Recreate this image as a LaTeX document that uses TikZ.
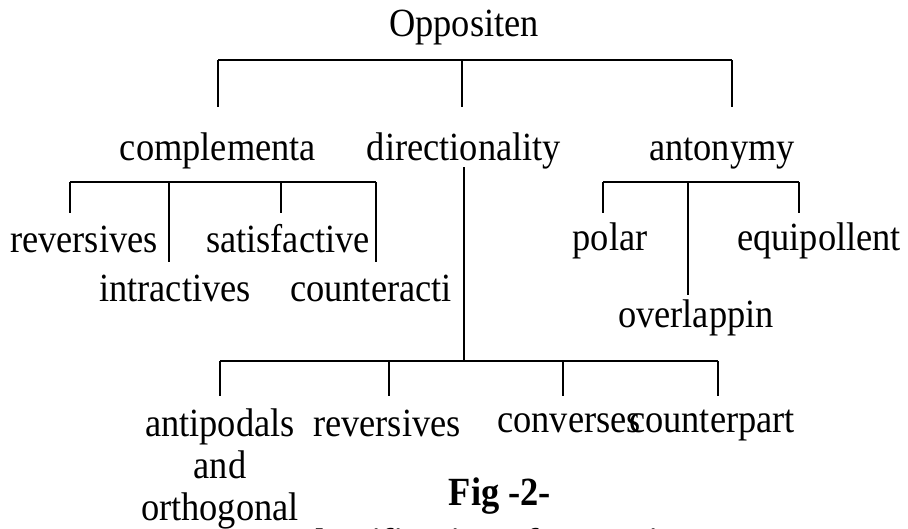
\documentclass[tikz,border=0pt]{standalone}
\usepackage{fontspec}
\setmainfont{Liberation Serif}[FakeStretch=0.91]
\usetikzlibrary{positioning}

\begin{document}
\begin{tikzpicture}[x=1pt,y=-1pt,
  term/.style={inner sep=0pt, anchor=base, font=\fontsize{40}{42}\selectfont},
  bar/.style={line width=2.6pt},
  drop/.style={line width=2pt}]
\useasboundingbox (0,0) rectangle (908,528);
\clip (0,0) rectangle (908,528);

% Root and first level
\node[term] (opp) at (464,36) {Oppositen};
\node[term] (comp) at (218,160) {complementa};
\node[term] (dir) at (464,160) {directionality};
\node[term] (ant) at (722,160) {antonymy};

% Complementa branch
\node[term] (crev) at (84,252) {reversives};
\node[term] (csat) at (288,252) {satisfactive};
\node[term] (cintr) at (175,301) {intractives};
\node[term] (ccount) at (371,301) {counteracti};

% Antonymy branch
\node[term] (apol) at (610,250) {polar};
\node[term] (aequi) at (819,250) {equipollent};
\node[term] (aover) at (696,327) {overlappin};

% Directionality branch (base of a multi-line node is its last line)
\node[term, align=center] (dantip) at (220,520) {antipodals\\and\\orthogonal};
\node[term] (drev) at (387,436) {reversives};
\node[term] (dconv) at (569,432) {converses};
\node[term] (dcount) at (712,432) {counterpart};

% Caption
\node[term, font=\fontsize{40}{42}\selectfont\bfseries] (fig) at (500,505) {Fig -2-};
\node[term, font=\fontsize{40}{42}\selectfont\bfseries] (cap) at (495,556) {Classification of Opposites};

% Bars and drops
\coordinate (t1) at (218,60); \coordinate (t2) at (462,60); \coordinate (t3) at (732,60);
\draw[bar] (t1) -- (t3);
\draw[drop] (t1) -- (218,107) (t2) -- (462,107) (t3) -- (732,107);

\coordinate (c1) at (70,182); \coordinate (c2) at (169,182);
\coordinate (c3) at (281,182); \coordinate (c4) at (376,182);
\draw[bar] (c1) -- (c4);
\draw[drop] (c1) -- (70,213) (c2) -- (169,262) (c3) -- (281,213) (c4) -- (376,262);

\coordinate (a1) at (603,182); \coordinate (a2) at (688,182); \coordinate (a3) at (799,182);
\draw[bar] (a1) -- (a3);
\draw[drop] (a1) -- (603,213) (a2) -- (688,295) (a3) -- (799,213);

\coordinate (d0) at (464,167); \coordinate (d1) at (220,361); \coordinate (dj) at (464,361);
\coordinate (d2) at (389,361); \coordinate (d3) at (563,361); \coordinate (d4) at (718,361);
\draw[drop] (d0) -- (dj);
\draw[bar] (d1) -- (d4);
\draw[drop] (d1) -- (220,396) (d2) -- (389,396) (d3) -- (563,396) (d4) -- (718,396);
\end{tikzpicture}
\end{document}
